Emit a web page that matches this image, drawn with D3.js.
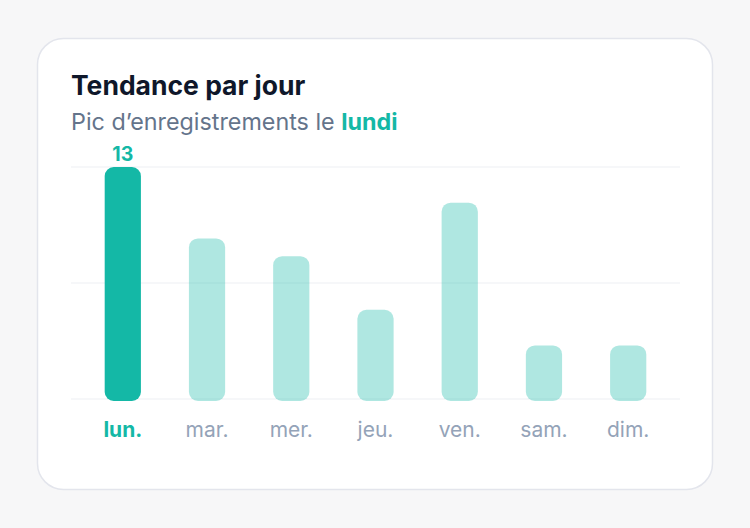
<!DOCTYPE html>
<html>
<head>
<meta charset="utf-8">
<script src="https://cdn.jsdelivr.net/npm/d3@7"></script>
<style>
  html, body { margin: 0; padding: 0; background: #f7f7f8; }
  body { width: 750px; height: 528px; font-family: Inter, "Noto Sans", sans-serif; }
</style>
</head>
<body>
<div id="chart"></div>
<script>
const days = ["lun.", "mar.", "mer.", "jeu.", "ven.", "sam.", "dim."];
const counts = [13, 9, 8, 5, 11, 3, 3];
const gridValues = [0, 6.5, 13];

const width = 750, height = 528;
const teal = "#14b8a6";

const svg = d3.select("#chart").append("svg")
    .attr("width", width)
    .attr("height", height)
    .style("font-family", "Inter, 'Noto Sans', sans-serif");

// carte
svg.append("rect")
    .attr("x", 37.5).attr("y", 38.5)
    .attr("width", 675).attr("height", 451)
    .attr("rx", 26)
    .attr("fill", "#ffffff")
    .attr("stroke", "#e3e5ec")
    .attr("stroke-width", 1.5);

svg.append("text")
    .attr("x", 71).attr("y", 95)
    .attr("fill", "#0f172a")
    .style("font-size", "26.5px")
    .style("font-weight", 700)
    .text("Tendance par jour");

const sub = svg.append("text")
    .attr("x", 71).attr("y", 130)
    .attr("fill", "#64748b")
    .style("font-size", "23.3px");
sub.append("tspan").text("Pic d\u2019enregistrements le ");
sub.append("tspan")
    .attr("fill", teal)
    .style("font-weight", 700)
    .text("lundi");

const x = d3.scaleBand()
    .domain(days)
    .range([71, 680])
    .paddingInner(0.57)
    .paddingOuter(0.4);

const y = d3.scaleLinear()
    .domain([0, d3.max(counts)])
    .range([399, 167]);

const maxIdx = counts.indexOf(d3.max(counts));

// grille
svg.append("g").selectAll("line")
    .data(gridValues)
    .enter().append("line")
    .attr("x1", 71).attr("x2", 680)
    .attr("y1", d => y(d)).attr("y2", d => y(d))
    .attr("stroke", "#eef0f3")
    .attr("stroke-width", 1.2);

// barres
svg.append("g").selectAll("rect")
    .data(counts)
    .enter().append("rect")
    .attr("x", (d, i) => x(days[i]))
    .attr("y", d => y(d))
    .attr("width", x.bandwidth())
    .attr("height", d => y(0) - y(d) + 2)
    .attr("rx", 9)
    .attr("fill", teal)
    .attr("fill-opacity", (d, i) => i === maxIdx ? 1 : 0.34);

// valeur du pic
svg.append("text")
    .attr("x", x(days[maxIdx]) + x.bandwidth() / 2)
    .attr("y", y(counts[maxIdx]) - 6)
    .attr("text-anchor", "middle")
    .attr("fill", teal)
    .style("font-size", "19.5px")
    .style("font-weight", 700)
    .text(counts[maxIdx]);

// axe des jours
const xAxis = svg.append("g")
    .attr("transform", "translate(0,399)")
    .call(d3.axisBottom(x).tickSize(0).tickPadding(23));
xAxis.select(".domain").remove();
xAxis.selectAll("text")
    .style("font-family", "Inter, 'Noto Sans', sans-serif")
    .style("font-size", "21px")
    .attr("fill", (d, i) => i === maxIdx ? teal : "#94a3b8")
    .style("font-weight", (d, i) => i === maxIdx ? 700 : 400);
</script>
</body>
</html>
